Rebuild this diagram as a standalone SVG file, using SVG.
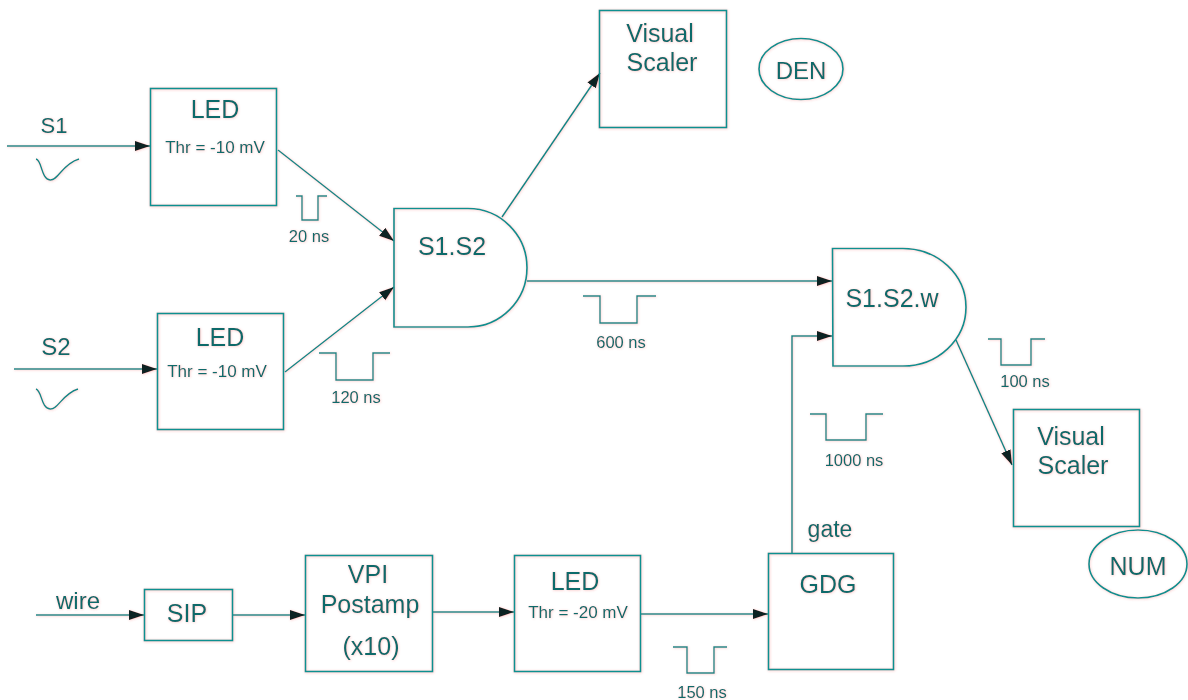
<svg xmlns="http://www.w3.org/2000/svg" width="1188" height="700" viewBox="0 0 1188 700">
<style>
.s{fill:none;stroke:#0f9090;stroke-width:1.7}
.c{fill:none;stroke:#0f8888;stroke-width:1.5}
.p{fill:none;stroke:#0f8888;stroke-width:1.4}
text{font-family:"Liberation Sans",Arial,sans-serif;fill:#0f6a6b;text-anchor:middle}
.l{font-size:25px}
.m{font-size:17px}
.t{font-size:16.500px}
.g{filter:url(#f)}
</style>
<defs>
<marker id="a" markerUnits="userSpaceOnUse" markerWidth="16" markerHeight="12" refX="15" refY="5" orient="auto"><path d="M0 0L15 5L0 10Z" fill="#0c2020"/></marker>
<filter id="f" x="0" y="0" width="1188" height="700" filterUnits="userSpaceOnUse"><feGaussianBlur in="SourceGraphic" stdDeviation="0.35" result="b"/><feDropShadow in="b" dx="0.5" dy="0.5" stdDeviation="0.8" flood-color="#f04040" flood-opacity="0.3"/></filter>
</defs>
<rect width="1188" height="700" fill="#fff"/>
<g class="g">
<g id="connectors">
<path class="c" marker-end="url(#a)" d="M7 146H150"/>
<path class="c" marker-end="url(#a)" d="M14 369H157"/>
<path class="c" marker-end="url(#a)" d="M278 150L394 241"/>
<path class="c" marker-end="url(#a)" d="M285 372L394 287"/>
<path class="c" marker-end="url(#a)" d="M502 217L600 73"/>
<path class="c" marker-end="url(#a)" d="M527 281H832"/>
<path class="c" marker-end="url(#a)" d="M792 553V336H832"/>
<path class="c" marker-end="url(#a)" d="M956 340L1012 465"/>
<path class="c" marker-end="url(#a)" d="M36 615H144"/>
<path class="c" marker-end="url(#a)" d="M232 615H305"/>
<path class="c" marker-end="url(#a)" d="M432 612H514"/>
<path class="c" marker-end="url(#a)" d="M641 614H768"/>
</g>
<g id="pulses">
<path class="p" d="M296 196H302V220H318V196H327"/>
<path class="p" d="M319 353H336V380H373V353H390"/>
<path class="p" d="M583 296H600V323H637V296H656"/>
<path class="p" d="M988 339H1001V365H1031V339H1045"/>
<path class="p" d="M810 414H826V440H866V414H883"/>
<path class="p" d="M673 647H687V673H714V647H727"/>
<path class="p" d="M36 159C42 160 41 179 50 180C58 181 62 164 79 159"/>
<path class="p" d="M36 389C42 391 41 408 50 409C58 410 62 394 78 389"/>
</g>
<g id="labels">
<text x="54" y="133" style="font-size:22px">S1</text>
<text x="56" y="355" style="font-size:24px">S2</text>
<text class="t" x="309" y="242">20 ns</text>
<text class="t" x="356" y="403">120 ns</text>
<text class="t" x="621" y="348">600 ns</text>
<text class="t" x="1025" y="387">100 ns</text>
<text class="t" x="854" y="466">1000 ns</text>
<text class="t" x="702" y="698">150 ns</text>
<text x="78" y="609" style="font-size:24px">wire</text>
<text x="830" y="537" style="font-size:23px">gate</text>
</g>
<g id="led1"><rect class="s" x="150.500" y="88.500" width="126" height="117"/><text class="l" x="215" y="118">LED</text><text class="m" x="215" y="153">Thr = -10 mV</text></g>
<g id="led2"><rect class="s" x="157.500" y="313.500" width="126" height="116"/><text class="l" x="220" y="346">LED</text><text class="m" x="217" y="377">Thr = -10 mV</text></g>
<g id="and1"><path class="s" d="M394 208.500H468A59 59.250 0 0 1 468 327H394Z"/><text class="l" x="452" y="255">S1.S2</text></g>
<g id="and2"><path class="s" d="M832.500 248.500H903A63 58.750 0 0 1 903 366H833Z"/><text class="l" x="892" y="307">S1.S2.w</text></g>
<g id="scaler1"><rect class="s" x="599.500" y="10.500" width="127" height="117"/><text class="l" x="660" y="42">Visual</text><text class="l" x="662" y="71">Scaler</text></g>
<g id="scaler2"><rect class="s" x="1013.500" y="409.500" width="126" height="117"/><text class="l" x="1071" y="445">Visual</text><text class="l" x="1073" y="474">Scaler</text></g>
<g id="den"><ellipse class="s" cx="801" cy="69" rx="42" ry="30.500"/><text class="l" x="801" y="79" style="font-size:24px">DEN</text></g>
<g id="num"><ellipse class="s" cx="1138" cy="564" rx="49" ry="34"/><text class="l" x="1138" y="575">NUM</text></g>
<g id="sip"><rect class="s" x="144.500" y="589.500" width="88" height="51"/><text class="l" x="187" y="622">SIP</text></g>
<g id="vpi"><rect class="s" x="305.500" y="555.500" width="127" height="116"/><text class="l" x="368" y="583">VPI</text><text class="l" x="370" y="613">Postamp</text><text class="l" x="371" y="655">(x10)</text></g>
<g id="led3"><rect class="s" x="514.500" y="555.500" width="126" height="116"/><text class="l" x="575" y="590">LED</text><text class="m" x="578" y="618">Thr = -20 mV</text></g>
<g id="gdg"><rect class="s" x="768.500" y="553.500" width="125" height="116"/><text class="l" x="828" y="593">GDG</text></g>
</g>
</svg>
